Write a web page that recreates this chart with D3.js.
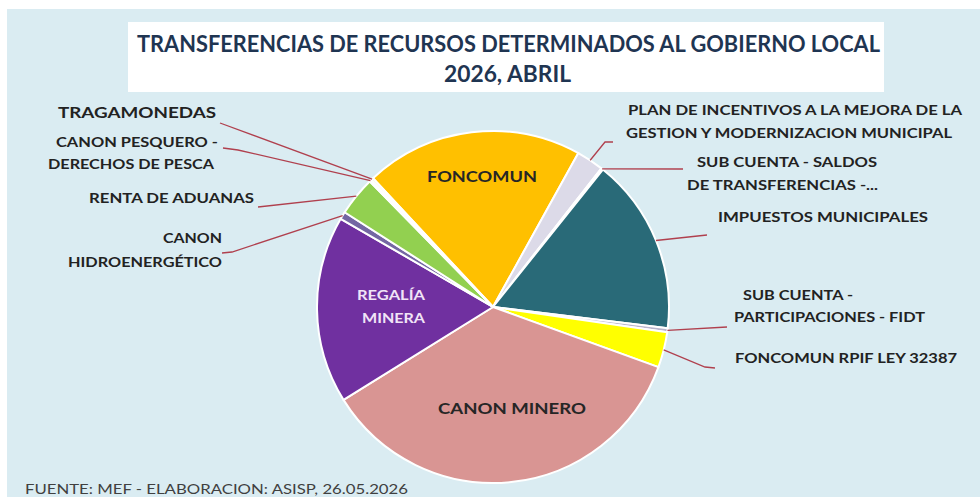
<!DOCTYPE html>
<html>
<head>
<meta charset="utf-8">
<script src="https://cdn.jsdelivr.net/npm/d3@7/dist/d3.min.js"></script>
<style>
  body { margin: 0; background: #fff; }
  svg text { font-family: Lato, "Open Sans", sans-serif; }
</style>
</head>
<body>
<script>
'use strict';

// Data =======================
// share of the total (%), clockwise from FONCOMUN
var categories = [
  'FONCOMUN',
  'PLAN DE INCENTIVOS A LA MEJORA DE LA GESTION Y MODERNIZACION MUNICIPAL',
  'SUB CUENTA - SALDOS DE TRANSFERENCIAS',
  'IMPUESTOS MUNICIPALES',
  'SUB CUENTA - PARTICIPACIONES - FIDT',
  'FONCOMUN RPIF LEY 32387',
  'CANON MINERO',
  'REGALÍA MINERA',
  'CANON HIDROENERGÉTICO',
  'RENTA DE ADUANAS',
  'CANON PESQUERO - DERECHOS DE PESCA',
  'TRAGAMONEDAS'
];
var shares = [20.0, 2.5, 0.17, 16.2, 0.36, 3.25, 35.6, 17.2, 0.69, 3.6, 0.19, 0.22];
var sliceColors = ['#ffc000', '#dcdae8', '#eef3f4', '#296a78', '#b8b4cc', '#ffff00',
                   '#d99593', '#7030a0', '#7467a3', '#92d050', '#f3f1e4', '#f7f3de'];

var titleLines = ['TRANSFERENCIAS DE RECURSOS DETERMINADOS AL GOBIERNO LOCAL', '2026, ABRIL'];
var sourceNote = 'FUENTE: MEF - ELABORACION: ASISP, 26.05.2026';

// Label layout (text lines + where the leader leaves the text) ==========
// idx = slice index, lines = [text, x, y, width], leader = points before the rim
var outsideLabels = [
  { idx: 11, size: 15, lines: [['TRAGAMONEDAS', 58, 118, 158]], leader: [[220, 123]] },
  { idx: 10, size: 13, lines: [['CANON PESQUERO -', 56, 147, 162], ['DERECHOS DE PESCA', 48, 169, 166]], leader: [[223, 148], [238, 150]] },
  { idx: 9, size: 13, lines: [['RENTA DE ADUANAS', 89, 203, 165]], leader: [[258, 207]] },
  { idx: 8, size: 13, lines: [['CANON', 163, 243, 59], ['HIDROENERGÉTICO', 68, 267, 154]], leader: [[222, 253], [232, 252]] },
  { idx: 1, size: 13, lines: [['PLAN DE INCENTIVOS A LA MEJORA DE LA', 628, 115, 334], ['GESTION Y MODERNIZACION MUNICIPAL', 626, 138, 326]], leader: [[613, 142], [605, 142]] },
  { idx: 2, size: 13, lines: [['SUB CUENTA - SALDOS', 697, 167, 180], ['DE TRANSFERENCIAS -...', 687, 190, 191]], leader: [[683, 169]] },
  { idx: 3, size: 13, lines: [['IMPUESTOS MUNICIPALES', 718, 222, 210]], leader: [[707, 235]] },
  { idx: 4, size: 13, lines: [['SUB CUENTA -', 743, 300, 110], ['PARTICIPACIONES - FIDT', 734, 322, 191]], leader: [[727, 327]] },
  { idx: 5, size: 13, lines: [['FONCOMUN RPIF LEY 32387', 735, 363, 222]], leader: [[715, 368], [705, 367]] }
];
var insideLabels = [
  { idx: 0, color: '#262626', size: 15, lines: [['FONCOMUN', 427, 182, 110]] },
  { idx: 7, color: '#f1e4f7', size: 14, lines: [['REGALÍA', 357, 300, 68], ['MINERA', 362, 323, 63]] },
  { idx: 6, color: '#262626', size: 16, lines: [['CANON MINERO', 438, 414, 148]] }
];

// Sizing things.
var width = 980, height = 497;
var cx = 493, cy = 307, radius = 176;
var firstAngle = -43 * Math.PI / 180;

var svg = d3.select('body').append('svg')
    .attr('width', width)
    .attr('height', height);

// panel background
svg.append('rect')
  .attr('x', 7).attr('y', 9)
  .attr('width', width - 7).attr('height', height - 9)
  .attr('fill', '#daecf2');

// title box
svg.append('rect')
  .attr('x', 128).attr('y', 22)
  .attr('width', 756).attr('height', 70)
  .attr('fill', '#ffffff');

// fit a text element to a width
function fitText(sel, w) {
  sel.attr('textLength', w).attr('lengthAdjust', 'spacingAndGlyphs');
}

svg.append('text')
  .attr('x', 137).attr('y', 52)
  .style('font-size', '22px').style('font-weight', 700)
  .attr('fill', '#1f3552')
  .text(titleLines[0])
  .call(fitText, 743);

svg.append('text')
  .attr('x', 444).attr('y', 82)
  .style('font-size', '22px').style('font-weight', 700)
  .attr('fill', '#1f3552')
  .text(titleLines[1])
  .call(fitText, 127);

// pie =======================
var pie = d3.pie()
  .sort(null)
  .value(function (d) { return d; })
  .startAngle(firstAngle)
  .endAngle(firstAngle + 2 * Math.PI);

var arcs = pie(shares);

var arc = d3.arc().innerRadius(0).outerRadius(radius);

var pieG = svg.append('g').attr('transform', 'translate(' + cx + ',' + cy + ')');

pieG.selectAll('path.slice')
  .data(arcs)
  .enter().append('path')
  .attr('class', 'slice')
  .attr('d', arc)
  .attr('fill', function (d, i) { return sliceColors[i]; })
  .attr('stroke', '#ffffff')
  .attr('stroke-width', 2)
  .attr('stroke-linejoin', 'round');

// point on the rim at the middle of a slice
function rimPoint(d) {
  var a = (d.startAngle + d.endAngle) / 2;
  return [cx + radius * Math.sin(a), cy - radius * Math.cos(a)];
}

// leader lines
var line = d3.line();
outsideLabels.forEach(function (lab) {
  var pts = lab.leader.concat([rimPoint(arcs[lab.idx])]);
  svg.append('path')
    .attr('d', line(pts))
    .attr('fill', 'none')
    .attr('stroke', '#b0404e')
    .attr('stroke-width', 1.3);
});

function drawLines(lab, color) {
  lab.lines.forEach(function (l) {
    svg.append('text')
      .attr('x', l[1]).attr('y', l[2])
      .style('font-size', lab.size + 'px').style('font-weight', 700)
      .attr('fill', color)
      .text(l[0])
      .call(fitText, l[3]);
  });
}

outsideLabels.forEach(function (lab) { drawLines(lab, '#222222'); });
insideLabels.forEach(function (lab) { drawLines(lab, lab.color); });

// footer
svg.append('text')
  .attr('x', 25).attr('y', 494)
  .style('font-size', '14px')
  .attr('fill', '#404040')
  .text(sourceNote)
  .call(fitText, 383);
</script>
</body>
</html>
